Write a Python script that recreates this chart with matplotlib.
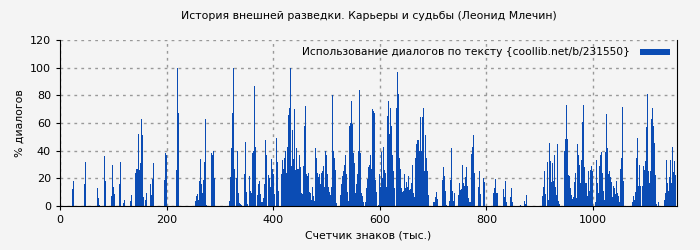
import matplotlib
matplotlib.use("Agg")
import matplotlib.pyplot as plt
import numpy as np

# share of dialogue (%) per text slice
# one value per slice, slices are ~1.876 thousand chars wide
seg1 = [0] * 12 + [12, 18] + [0] * 10 + [16, 32] + [0] * 11 + [13, 6, 1, 0, 0, 0, 0, 36, 18, 0, 0, 0, 0, 0, 7]
seg2 = [30, 14, 9, 0, 0, 0, 0, 16, 32, 0, 0, 2, 4, 0, 0, 0, 0, 0, 3.5, 8, 0, 0, 0, 24, 27, 27,
        52, 26, 31, 63, 51, 6.5, 0, 4, 9.5, 0, 0, 0, 16, 8, 19.5, 31] + [0] * 10
seg3 = [19, 38, 37] + [0] * 9 + [26, 100, 67] + [0] * 16 + [3.5, 7, 9, 4, 18, 34, 16, 9.5, 19, 32, 63, 1,
        0, 0, 0, 0, 38, 37, 40, 20, 0]
seg4 = [0] * 13 + [3.5, 21, 42, 67, 100, 27, 0, 20, 40, 9.5, 2, 1.5, 1, 0, 0, 23, 46, 10, 1.5, 0,
        22, 11, 9.5, 38, 40, 87, 43, 0, 8, 16, 18, 9, 3, 3, 6, 16, 48, 37, 0]
seg5 = [22.5, 20, 14, 34, 27, 23, 9, 0, 49, 32, 11, 0, 0, 23, 33, 27, 35, 40, 24, 43, 66, 71, 100,
        29, 55, 34, 70, 26, 42, 27, 27, 37, 28, 9.5, 9, 29, 58, 72, 23, 22, 24, 10, 9.5, 4, 14, 7,
        3.5, 42, 35, 24, 21, 23]
seg6 = [16, 24, 25, 29, 14, 40, 37, 23, 14, 10, 8, 14, 80, 40, 35, 26, 2, 0, 0, 0, 8, 16, 22, 25,
        30, 37, 23, 10, 3.5, 58, 60, 76, 59, 38, 31, 9.5, 16, 23, 40, 84, 38, 9.5, 7, 3, 0, 3, 13,
        19.5, 28, 30, 37, 27]
seg7 = [70, 69, 67, 19, 10, 0, 1, 23, 14, 39, 20, 43, 26, 24, 14, 65, 76, 52, 71, 58, 37, 25, 13,
        0, 71, 97, 81, 35, 27, 13, 10, 11, 23, 13, 17, 14, 22, 11.5, 12, 16.5, 30, 9.5, 6.5, 35,
        45, 48, 48, 40, 64, 40, 64, 71]
seg8 = [25, 51, 35, 25, 8, 0, 0, 0, 0, 3, 3, 6.5, 10, 5, 0, 0, 0, 0, 19, 28, 21.7, 11, 1, 0, 0,
        3.5, 19, 42, 11, 3.5, 9.5, 0, 0, 0, 8, 16.5, 11.5, 12, 30, 16.5, 14.5, 21, 28, 14.5, 6, 3,
        3, 37.5, 43, 51, 24, 0]
seg9 = [0, 0, 14, 25, 9, 0, 0, 20, 17] + [0] * 8 + [9.5, 13, 19.5, 9.5, 9.5] + [0] * 5 + \
       [12, 6.5, 18, 3, 0, 0, 0, 6.5, 13, 3] + [0] * 7 + [1, 0, 0, 0, 3.5, 1.5, 8, 0]
seg10 = [0] * 14 + [7, 14, 25, 9, 0, 32, 4, 45.5, 32.5, 17, 31, 18, 37, 14, 8, 45, 3.5, 1.5,
         0, 0, 0, 0, 40, 48.5, 73, 48.5, 22.5, 22, 13, 8, 5, 6.5, 17, 24, 6, 45, 37, 30]
seg11 = [16.5, 33, 61, 73, 28, 16.5, 16.5, 7, 25, 11, 26, 29, 25, 0, 0, 3, 33, 16.5, 9.5, 29, 37,
         39, 24, 11, 4, 39, 66.5, 42, 23, 25, 21, 17, 6.5, 14.5, 13, 9, 18, 9.5, 7, 3, 27, 35,
         71.5, 18] + [0] * 8
seg12 = [3, 7, 4, 10, 35, 49, 14.5, 30, 14.5, 0, 14.5, 29, 26, 32.5, 57, 81, 25, 16.5, 25, 63, 71,
         58, 45.5, 22.5, 1.5, 0, 3, 0, 0, 0, 0, 0, 4, 9.5, 33, 16.5, 11, 21, 33, 16.5, 42.5, 24.5,
         32.5, 22.5, 0]

usage = seg1 + seg2 + seg3 + seg4 + seg5 + seg6 + seg7 + seg8 + seg9 + seg10 + seg11 + seg12
step = 1000 / 533.0
counter = (np.arange(len(usage)) + 0.5) * step

title = "История внешней разведки. Карьеры и судьбы (Леонид Млечин)"
legend_label = "Использование диалогов по тексту {coollib.net/b/231550}"

bg = "#f4f4f4"
blue = "#0b4cb4"

fig = plt.figure(figsize=(7, 2.5), dpi=100, facecolor=bg)
ax = fig.add_axes([60 / 700, 44 / 250, 617 / 700, 166 / 250], facecolor=bg)

ax.bar(counter, usage, width=step, color=blue, linewidth=0, label=legend_label)

ax.set_xlim(0, 617 * step)
ax.set_ylim(0, 120)
ax.set_xticks([0, 200, 400, 600, 800, 1000])
ax.set_yticks([0, 20, 40, 60, 80, 100, 120])
ax.grid(True, color="#999999", linestyle=(0, (2, 3)), linewidth=1)
ax.set_axisbelow(True)
ax.tick_params(labelsize=8, length=3)
ax.spines["top"].set_visible(False)

ax.set_title(title, fontsize=7.8, pad=15)
ax.set_xlabel("Счетчик знаков (тыс.)", fontsize=7.8)
ax.set_ylabel("% диалогов", fontsize=7.8)

leg = ax.legend(loc="upper right", frameon=False, fontsize=7.7, markerfirst=False,
                handlelength=2.8, handleheight=0.5, handletextpad=0.9, borderaxespad=0.3)

plt.savefig("out.png", dpi=100, facecolor=bg)
